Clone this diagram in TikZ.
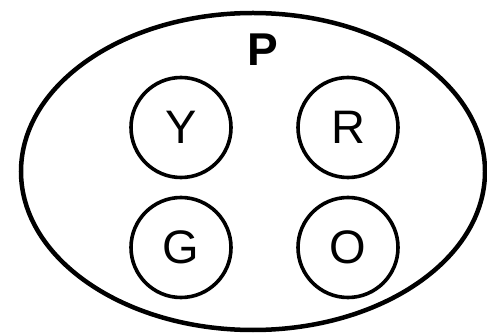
\documentclass[tikz,border=0pt]{standalone}
\usepackage{fontspec}
\setmainfont{Liberation Sans}
\newcommand{\ring}{
node[draw, shape=circle, line width=3.6, minimum size=100, inner sep=0, font=\fontsize{47}{47}\selectfont]
}

\begin{document}
\begin{tikzpicture}[x=1pt, y=1pt]
\useasboundingbox (0,0) rectangle (487,332);
\draw[line width=4.5] (253,160.5) ellipse (232 and 158.5);
\path (263,282.8) node[font=\fontsize{46}{46}\selectfont\bfseries] (P) {P};
\path (181,204.5) \ring (Y) {Y};
\path (348,204.5) \ring (R) {R};
\path (181,84.5) \ring (G) {G};
\path (348,84.5) \ring (O) {O};
\end{tikzpicture}
\end{document}
